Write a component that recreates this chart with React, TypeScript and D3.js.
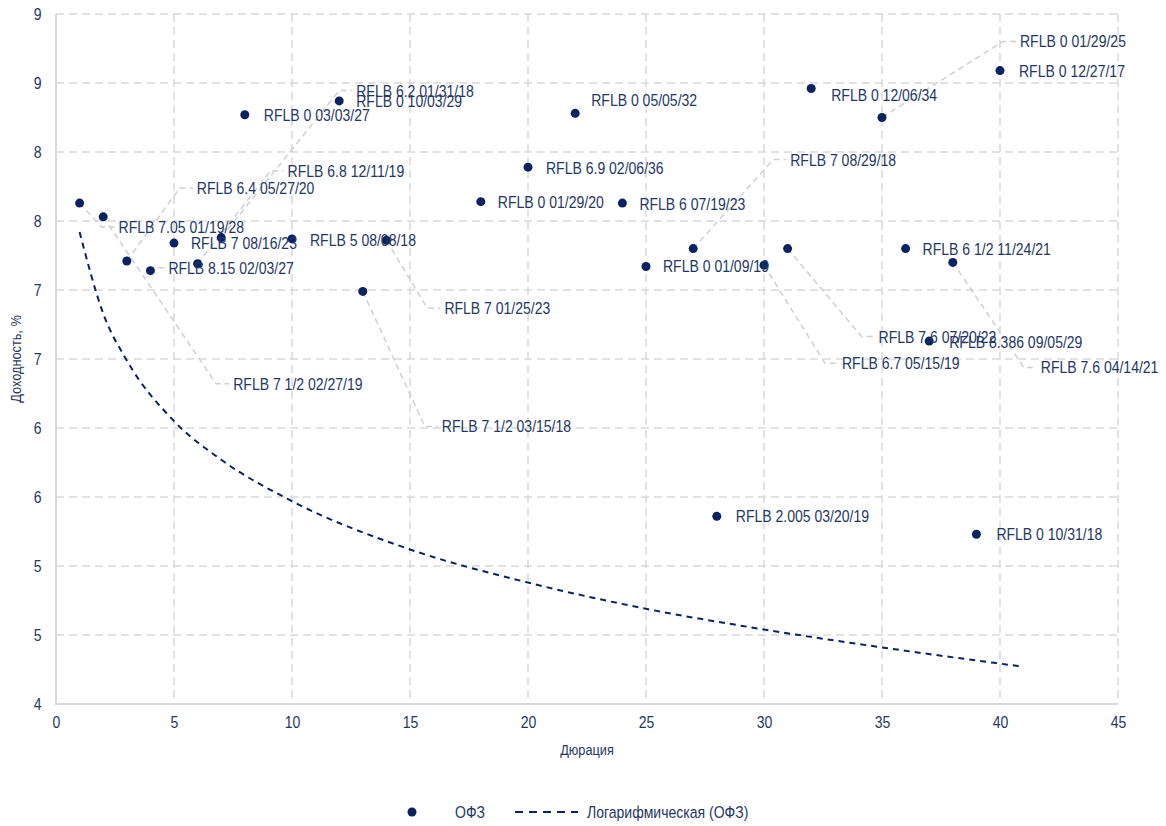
import * as d3 from 'd3'
import * as React from 'react'

//------------------------------data------------------------------
const bondNames = [
  'RFLB 7.05 01/19/28',
  'RFLB 7 1/2 02/27/19',
  'RFLB 6.4 05/27/20',
  'RFLB 8.15 02/03/27',
  'RFLB 7 08/16/23',
  'RFLB 6.8 12/11/19',
  'RFLB 6.2 01/31/18',
  'RFLB 0 03/03/27',
  'RFLB 5 08/08/18',
  'RFLB 0 10/03/29',
  'RFLB 7 1/2 03/15/18',
  'RFLB 7 01/25/23',
  'RFLB 0 01/29/20',
  'RFLB 6.9 02/06/36',
  'RFLB 0 05/05/32',
  'RFLB 6 07/19/23',
  'RFLB 0 01/09/19',
  'RFLB 7 08/29/18',
  'RFLB 6.7 05/15/19',
  'RFLB 7.6 07/20/22',
  'RFLB 0 12/06/34',
  'RFLB 0 01/29/25',
  'RFLB 6 1/2 11/24/21',
  'RFLB 8.386 09/05/29',
  'RFLB 7.6 04/14/21',
  'RFLB 0 12/27/17',
  'RFLB 2.005 03/20/19',
  'RFLB 0 10/31/18'
]
const durations = [
  1, 2, 3, 4, 5, 6, 7, 8, 10, 12, 13, 14, 18, 20, 22, 24, 25, 27, 30, 31, 32,
  35, 36, 37, 38, 40, 28, 39
]
const yields = [
  7.63, 7.53, 7.21, 7.14, 7.34, 7.19, 7.38, 8.27, 7.37, 8.37, 6.99, 7.36, 7.64,
  7.89, 8.28, 7.63, 7.17, 7.3, 7.18, 7.3, 8.46, 8.25, 7.3, 6.63, 7.2, 8.59, 5.36,
  5.23
]
// logarithmic trend
const trendDurations = [1, 2, 3, 5, 7, 10, 15, 20, 25, 30, 35, 41]
const trendYields = [
  7.42, 6.83, 6.49, 6.05, 5.77, 5.47, 5.12, 4.88, 4.69, 4.54, 4.41, 4.27
]
const xTickValues = [0, 5, 10, 15, 20, 25, 30, 35, 40, 45]
const yTickValues = [4, 4.5, 5, 5.5, 6, 6.5, 7, 7.5, 8, 8.5, 9]
const yTickLabels = ['4', '5', '5', '6', '6', '7', '7', '8', '8', '9', '9']
const seriesNames = ['ОФЗ', 'Логарифмическая (ОФЗ)']
const xTitle = 'Дюрация'
const yTitle = 'Доходность, %'

//------------------------------layout------------------------------
const WIDTH = 1166
const HEIGHT = 826
const LEFT = 56
const RIGHT = 1118
const TOP = 14
const BOTTOM = 704
const FONT = '"Liberation Sans", Arial, sans-serif'
const SX = 0.85 // horizontal squeeze, imitates a narrow face
const TEXT_COLOR = '#1f3864'
const DOT_COLOR = '#0b2260'
const GRID_COLOR = '#d9d9d9'
// label placement relative to its point, px: [dx, dy, has leader line]
const labelOffsets: [number, number, boolean][] = [
  [39, 24, true],
  [130, 167, true],
  [70, -73, true],
  [18, -3, true],
  [17, 0, false],
  [90, -93, true],
  [135, -147, true],
  [19, 0, false],
  [18, 1, false],
  [17, 0, false],
  [79, 135, true],
  [58, 68, true],
  [17, 0, false],
  [18, 1, false],
  [16, -13, false],
  [17, 1, false],
  [17, 0, false],
  [97, -89, true],
  [78, 98, true],
  [91, 88, true],
  [20, 7, false],
  [138, -76, true],
  [17, 0, false],
  [20, 1, false],
  [88, 105, true],
  [19, 0, false],
  [19, 0, false],
  [20, 0, false]
]

//------------------------------drawChart------------------------------
const drawChart = (svgRef: React.RefObject<SVGSVGElement | null>) => {
  if (!svgRef.current) return
  const svg = d3.select(svgRef.current)
  svg.selectAll('*').remove()
  svg.attr('width', WIDTH).attr('height', HEIGHT)
  svg.style('font-family', FONT)

  const x = d3.scaleLinear().domain([0, 45]).range([LEFT, RIGHT])
  const y = d3.scaleLinear().domain([4, 9]).range([BOTTOM, TOP])

  // grid
  const grid = svg.append('g')
  grid
    .selectAll('line.h')
    .data(yTickValues.slice(1))
    .join('line')
    .attr('x1', LEFT)
    .attr('x2', RIGHT)
    .attr('y1', d => y(d))
    .attr('y2', d => y(d))
    .attr('stroke', GRID_COLOR)
    .attr('stroke-width', 1.5)
    .attr('stroke-dasharray', '8,5')
  grid
    .selectAll('line.v')
    .data(xTickValues.slice(1))
    .join('line')
    .attr('x1', d => x(d))
    .attr('x2', d => x(d))
    .attr('y1', TOP)
    .attr('y2', BOTTOM)
    .attr('stroke', GRID_COLOR)
    .attr('stroke-width', 1.5)
    .attr('stroke-dasharray', '8,5')
  // axis lines
  grid
    .append('path')
    .attr('d', `M${LEFT},${TOP}V${BOTTOM}H${RIGHT}`)
    .attr('fill', 'none')
    .attr('stroke', GRID_COLOR)
    .attr('stroke-width', 2)

  // tick labels
  const xAxis = svg
    .append('g')
    .attr('transform', `translate(0,${BOTTOM})`)
    .call(d3.axisBottom(x).tickValues(xTickValues).tickSize(0).tickPadding(12))
  const yAxis = svg
    .append('g')
    .attr('transform', `translate(${LEFT},0)`)
    .call(
      d3
        .axisLeft(y)
        .tickValues(yTickValues)
        .tickSize(0)
        .tickPadding(17)
        .tickFormat((_, i) => yTickLabels[i])
    )
  ;[xAxis, yAxis].forEach(g => {
    g.select('.domain').remove()
    g.selectAll('text')
      .attr('fill', TEXT_COLOR)
      .attr('transform', `scale(${SX},1)`)
      .style('font-family', FONT)
      .style('font-size', '16.5px')
  })

  // axis titles
  svg
    .append('text')
    .attr('transform', `translate(${(LEFT + RIGHT) / 2},755) scale(${SX},1)`)
    .attr('text-anchor', 'middle')
    .attr('fill', TEXT_COLOR)
    .style('font-size', '15px')
    .text(xTitle)
  svg
    .append('text')
    .attr('transform', `translate(21,${(TOP + BOTTOM) / 2}) rotate(-90) scale(${SX},1)`)
    .attr('text-anchor', 'middle')
    .attr('fill', TEXT_COLOR)
    .style('font-size', '15px')
    .text(yTitle)

  // trend line
  const trend = d3
    .line<number>()
    .x((_, i) => x(trendDurations[i]))
    .y(d => y(d))
    .curve(d3.curveMonotoneX)
  svg
    .append('path')
    .attr('d', trend(trendYields))
    .attr('fill', 'none')
    .attr('stroke', DOT_COLOR)
    .attr('stroke-width', 2)
    .attr('stroke-dasharray', '6,5')

  // leader lines
  const points = durations.map((d, i) => ({
    px: x(d),
    py: y(yields[i]),
    name: bondNames[i],
    off: labelOffsets[i]
  }))
  svg
    .append('g')
    .selectAll('path')
    .data(points.filter(p => p.off[2]))
    .join('path')
    .attr('d', p => {
      const lx = p.px + p.off[0]
      const ly = p.py + p.off[1]
      return `M${p.px},${p.py}L${lx - 17},${ly}H${lx - 4}`
    })
    .attr('fill', 'none')
    .attr('stroke', '#d0d0d0')
    .attr('stroke-width', 1.5)
    .attr('stroke-dasharray', '6,4')

  // points
  svg
    .append('g')
    .selectAll('circle')
    .data(points)
    .join('circle')
    .attr('cx', p => p.px)
    .attr('cy', p => p.py)
    .attr('r', 4.5)
    .attr('fill', DOT_COLOR)

  // data labels
  svg
    .append('g')
    .selectAll('text')
    .data(points)
    .join('text')
    .attr(
      'transform',
      p => `translate(${p.px + p.off[0]},${p.py + p.off[1]}) scale(${SX},1)`
    )
    .attr('dy', '0.36em')
    .attr('fill', TEXT_COLOR)
    .style('font-size', '16.5px')
    .text(p => p.name)

  // legend
  const legend = svg.append('g').attr('transform', 'translate(0,812)')
  legend
    .append('circle')
    .attr('cx', 412)
    .attr('cy', 0)
    .attr('r', 4.5)
    .attr('fill', DOT_COLOR)
  legend
    .append('text')
    .attr('transform', `translate(455,0) scale(${SX},1)`)
    .attr('dy', '0.36em')
    .attr('fill', TEXT_COLOR)
    .style('font-size', '16.5px')
    .text(seriesNames[0])
  legend
    .append('line')
    .attr('x1', 515)
    .attr('x2', 578)
    .attr('stroke', DOT_COLOR)
    .attr('stroke-width', 2)
    .attr('stroke-dasharray', '8,6')
  legend
    .append('text')
    .attr('transform', `translate(587,0) scale(${SX},1)`)
    .attr('dy', '0.36em')
    .attr('fill', TEXT_COLOR)
    .style('font-size', '16.5px')
    .text(seriesNames[1])
}

//------------------------------Component------------------------------
const App: React.FunctionComponent = () => {
  const chartSvg = React.useRef<SVGSVGElement>(null)

  React.useEffect(() => {
    drawChart(chartSvg)
  }, [])

  return (
    <div style={{ position: 'absolute', left: 0, top: 0, background: '#fff' }}>
      <svg ref={chartSvg} />
    </div>
  )
}

export default App
